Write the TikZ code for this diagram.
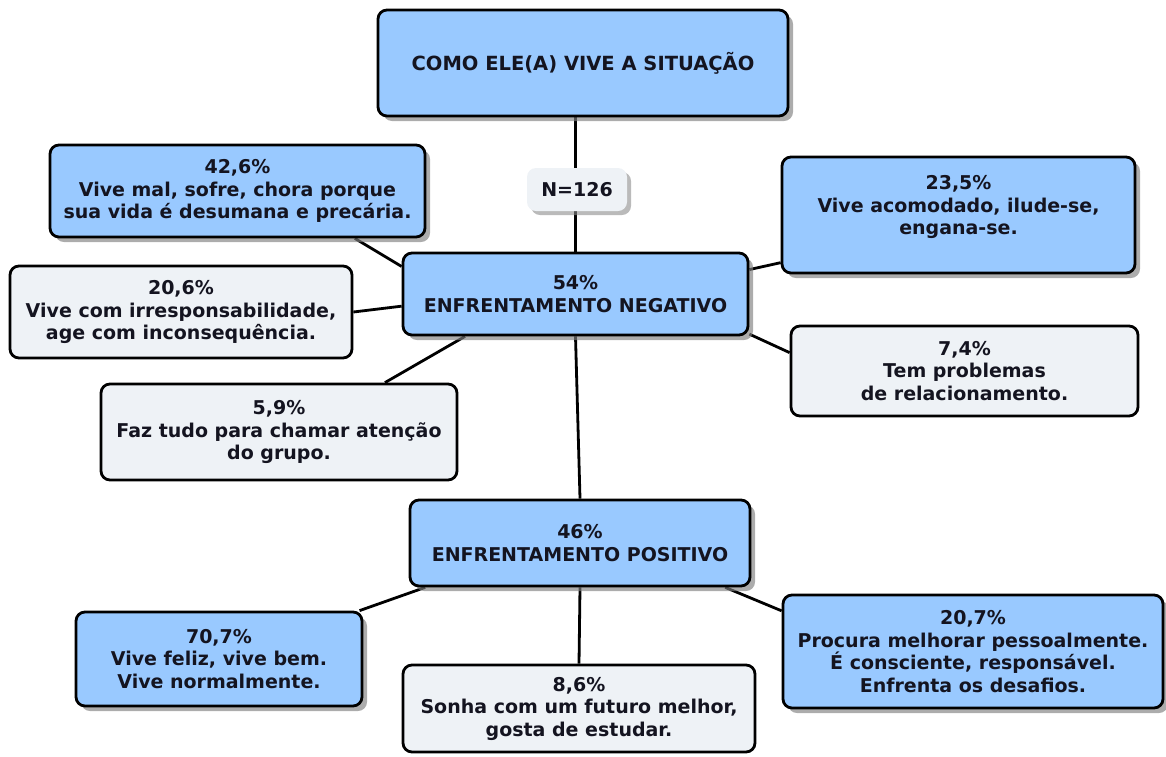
\documentclass[tikz,border=0pt]{standalone}
\usepackage{fontspec}
\setmainfont{DejaVu Sans}
\usetikzlibrary{shadows,backgrounds}
\definecolor{boxblue}{HTML}{99C9FF}
\definecolor{boxgrey}{HTML}{EEF2F6}
\definecolor{ink}{HTML}{141420}
\tikzset{
  box/.style={draw=black, line width=2.8pt, rounded corners=9pt, align=center,
    inner sep=0pt, text=ink, font=\bfseries\fontsize{19}{22.5}\selectfont},
  bluebox/.style={box, fill=boxblue,
    drop shadow={shadow xshift=5pt, shadow yshift=-5pt, fill=black!50, opacity=.65}},
  greybox/.style={box, fill=boxgrey},
  link/.style={line width=2.8pt, black}
}
\begin{document}
\begin{tikzpicture}[x=1pt, y=-1pt]
\useasboundingbox (0,0) rectangle (1166,756);
\node[bluebox, minimum width=410pt, minimum height=106pt, font=\bfseries\fontsize{19.5}{22.5}\selectfont] (top) at (583,63) {COMO ELE(A) VIVE A SITUAÇÃO};
\node[box, draw=none, fill=boxgrey, minimum width=100pt, minimum height=43pt,
  drop shadow={shadow xshift=4pt, shadow yshift=-4pt, fill=black!45, opacity=.6}] (n) at (577,189.5) {N=126};
\node[bluebox, minimum width=375pt, minimum height=92pt] (a426) at (237.5,191) {42,6\%\\Vive mal, sofre, chora porque\\sua vida é desumana e precária.};
\node[bluebox, minimum width=353pt, minimum height=116pt] (a235) at (958.5,215) {23,5\%\\Vive acomodado, ilude-se,\\engana-se.\\[-3pt]};
\node[bluebox, minimum width=345pt, minimum height=82pt] (neg) at (575.5,294) {54\%\\ENFRENTAMENTO NEGATIVO};
\node[greybox, minimum width=342pt, minimum height=92pt] (a206) at (181,312) {20,6\%\\Vive com irresponsabilidade,\\age com inconsequência.};
\node[greybox, minimum width=347pt, minimum height=90pt] (a74) at (964.5,371) {7,4\%\\Tem problemas\\de relacionamento.};
\node[greybox, minimum width=356pt, minimum height=96pt] (a59) at (279,432) {5,9\%\\Faz tudo para chamar atenção\\do grupo.};
\node[bluebox, minimum width=340pt, minimum height=86pt] (pos) at (580,543) {46\%\\ENFRENTAMENTO POSITIVO};
\node[bluebox, minimum width=286pt, minimum height=94pt] (a707) at (219,659) {70,7\%\\Vive feliz, vive bem.\\Vive normalmente.};
\node[greybox, minimum width=352pt, minimum height=87pt] (a86) at (579,708.5) {8,6\%\\Sonha com um futuro melhor,\\gosta de estudar.};
\node[bluebox, minimum width=380pt, minimum height=113pt] (a207) at (973,651.5) {20,7\%\\Procura melhorar pessoalmente.\\É consciente, responsável.\\Enfrenta os desafios.};
\begin{pgfonlayer}{background}
\draw[link] (top.south -| neg.north) -- (neg.north);
\draw[link] (neg.south) -- (pos.north);
\draw[link] (pos.south) -- (a86.north);
\foreach \a/\b in {a426.-22/neg.171, a206.east/neg.184, a59.25/neg.201,
  a235.195/neg.8, a74.174/neg.-13, pos.196/a707.19, pos.-17/a207.168}
  \draw[link] (\a) -- (\b);
\end{pgfonlayer}
\end{tikzpicture}
\end{document}
